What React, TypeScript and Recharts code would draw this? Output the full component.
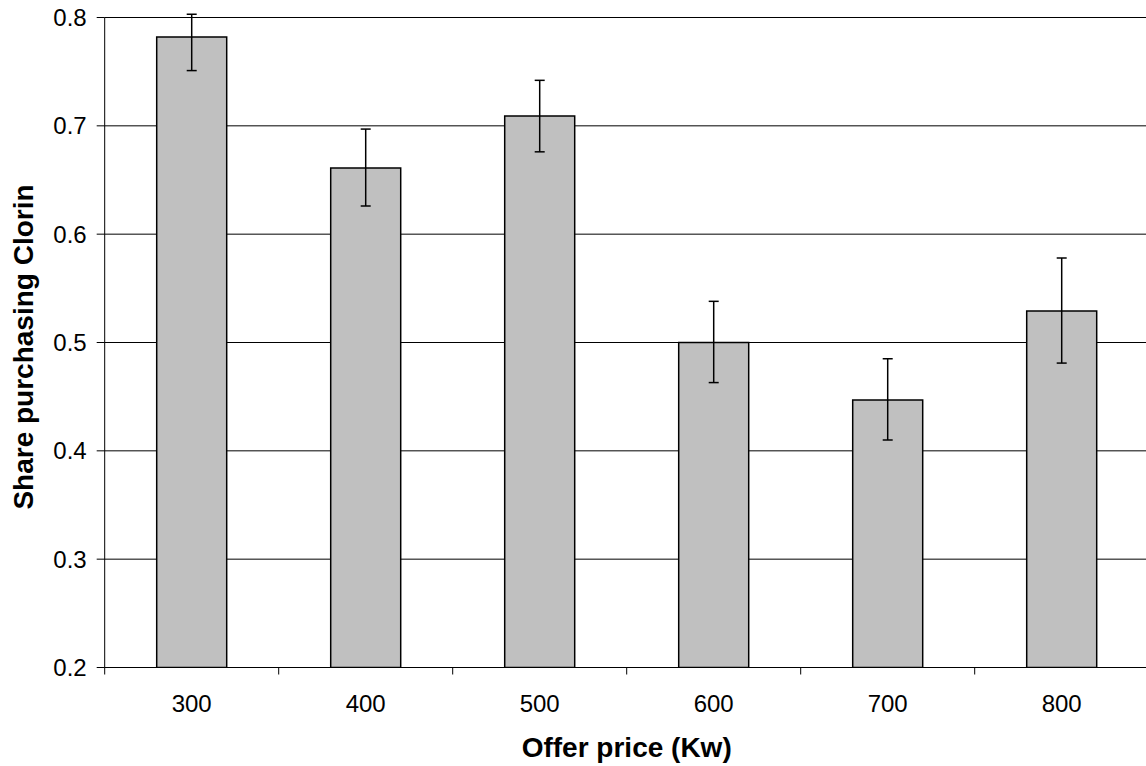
import React from 'react';
import { BarChart, Bar, XAxis, YAxis, CartesianGrid, ErrorBar, Label } from 'recharts';

const prices = ['300', '400', '500', '600', '700', '800'];
const shares = [0.782, 0.661, 0.709, 0.5, 0.447, 0.529];
const lowerBounds = [0.751, 0.626, 0.676, 0.463, 0.41, 0.481];
const upperBounds = [0.803, 0.697, 0.742, 0.538, 0.485, 0.578];
const yTicks = [0.2, 0.3, 0.4, 0.5, 0.6, 0.7, 0.8];

const FONT = '"Liberation Sans", Arial, Helvetica, sans-serif';

const data = prices.map((price, i) => ({
  price,
  share: shares[i],
  err: [shares[i] - lowerBounds[i], upperBounds[i] - shares[i]],
}));

// category ticks sit between the bars, labels at the bar centres
const PriceTick = (props: any) => {
  const { x, y, payload } = props;
  const half = payload && payload.offset ? payload.offset : 87;
  return (
    <g>
      <line x1={x - half} x2={x - half} y1={y} y2={y + 7} stroke="#000" strokeWidth={1} />
      <text x={x} y={y + 44} textAnchor="middle" fontSize={24} fill="#000" fontFamily={FONT}>
        {payload.value}
      </text>
    </g>
  );
};

const App: React.FC = () => {
  return (
    <div style={{ position: 'absolute', left: 0, top: 0, width: 1146, height: 766, overflow: 'hidden', background: '#fff' }}>
      <BarChart
        width={1150}
        height={766}
        data={data}
        margin={{ top: 17.5, right: 1.3, left: 0, bottom: 0 }}
        barSize={70}
      >
        <CartesianGrid vertical={false} stroke="#000" strokeWidth={1} />
        <XAxis
          dataKey="price"
          height={98.5}
          axisLine={{ stroke: '#000', strokeWidth: 1 }}
          tickLine={false}
          tickSize={0}
          tickMargin={0}
          interval={0}
          tick={<PriceTick />}
        >
          <Label
            content={() => (
              <text x={626.7} y={757} textAnchor="middle" fontSize={28} fontWeight="bold" fill="#000" fontFamily={FONT}>
                Offer price (Kw)
              </text>
            )}
          />
        </XAxis>
        <YAxis
          width={104.7}
          domain={[0.2, 0.8]}
          ticks={yTicks}
          allowDataOverflow
          tickFormatter={(v: number) => v.toFixed(1)}
          axisLine={{ stroke: '#000', strokeWidth: 1 }}
          tickLine={{ stroke: '#000', strokeWidth: 1 }}
          tickSize={8}
          tickMargin={10}
          tick={{ fontSize: 24, fill: '#000', fontFamily: FONT }}
        >
          <Label
            content={() => (
              <text
                x={23}
                y={347}
                transform="rotate(-90 23 347)"
                textAnchor="middle"
                dominantBaseline="central"
                fontSize={28}
                fontWeight="bold"
                fill="#000"
                fontFamily={FONT}
              >
                Share purchasing Clorin
              </text>
            )}
          />
        </YAxis>
        <Bar dataKey="share" fill="#c0c0c0" stroke="#000" strokeWidth={1.5} isAnimationActive={false}>
          <ErrorBar dataKey="err" width={5} stroke="#000" strokeWidth={1.5} isAnimationActive={false} />
        </Bar>
      </BarChart>
    </div>
  );
};

export default App;
